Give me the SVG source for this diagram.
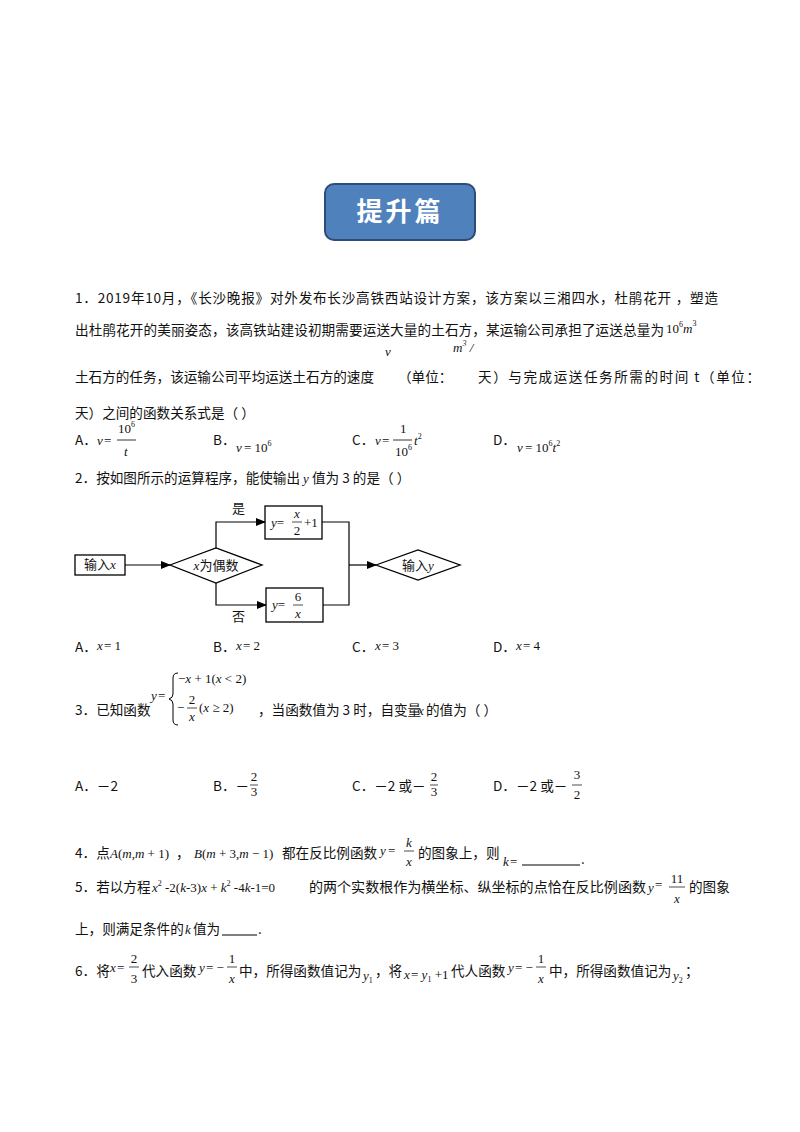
<svg xmlns="http://www.w3.org/2000/svg" width="800" height="1132" viewBox="0 0 800 1132">
<defs>
<marker id="ar" markerWidth="10" markerHeight="8" refX="9" refY="4" orient="auto" markerUnits="userSpaceOnUse"><path d="M0,0 L10,4 L0,8 Z" fill="#000"/></marker>
</defs>
<style>
.t{font-family:"Noto Sans CJK SC","Liberation Sans",sans-serif;font-size:13.6px;fill:#111}
.m{font-family:"Liberation Serif",serif;font-style:italic;font-size:13px;fill:#111}
.n{font-family:"Liberation Serif",serif;font-size:13px;fill:#111}
.s{font-size:8px}
.fc{font-family:"Liberation Serif","Noto Sans CJK SC",serif;font-size:13px;fill:#111}
.bx{fill:#fff;stroke:#000;stroke-width:1.3}
.ln{fill:none;stroke:#000;stroke-width:1.2}
</style>
<rect width="800" height="1132" fill="#fff"/>
<g id="title">
<rect x="325" y="184" width="150" height="56" rx="9" fill="#4f81bd" stroke="#2c4d75" stroke-width="2"/>
<text x="400" y="221" text-anchor="middle" style="font-family:'Noto Sans CJK SC',sans-serif;font-size:26px;font-weight:bold;fill:#fff;letter-spacing:3px">提升篇</text>
</g>
<g id="q1">
<text class="t" x="75" y="303" textLength="643" lengthAdjust="spacing">1．2019年10月，《长沙晚报》对外发布长沙高铁西站设计方案，该方案以三湘四水，杜鹃花开 ，塑造</text>
<text class="t" x="75" y="335" textLength="589" lengthAdjust="spacing">出杜鹃花开的美丽姿态，该高铁站建设初期需要运送大量的土石方，某运输公司承担了运送总量为</text>
<text class="n" x="666" y="333">10<tspan class="s" dy="-6">6</tspan><tspan class="m" dy="6">m</tspan><tspan class="s" dy="-7">3</tspan></text>
<text class="t" x="75" y="382" textLength="299" lengthAdjust="spacing">土石方的任务，该运输公司平均运送土石方的速度</text>
<text class="m" x="385" y="356">v</text>
<text class="t" x="398" y="382">（单位：</text>
<text class="m" x="453" y="352">m<tspan class="s" dy="-6">3</tspan><tspan class="n" dy="6"> /</tspan></text>
<text class="t" x="478" y="382" textLength="282" lengthAdjust="spacing">天）与完成运送任务所需的时间 t（单位：</text>
<text class="t" x="75" y="418">天）之间的函数关系式是（  ）</text>
<text class="t" x="75" y="445">A．</text>
<text class="m" x="97" y="445">v</text><text class="n" x="104" y="445">=</text>
<text class="n" x="118" y="433">10<tspan class="s" dy="-6">6</tspan></text>
<line x1="117" y1="440" x2="136" y2="440" stroke="#000" stroke-width="0.8"/>
<text class="m" x="124" y="456">t</text>
<text class="t" x="213" y="445">B．</text>
<text class="m" x="236" y="452">v</text><text class="n" x="244" y="452">= 10<tspan class="s" dy="-6">6</tspan></text>
<text class="t" x="352" y="445">C．</text>
<text class="m" x="375" y="445">v</text><text class="n" x="382" y="445">=</text>
<text class="n" x="400" y="433">1</text>
<line x1="393" y1="440" x2="412" y2="440" stroke="#000" stroke-width="0.8"/>
<text class="n" x="395" y="456">10<tspan class="s" dy="-6">6</tspan></text>
<text class="m" x="414" y="445">t<tspan class="s" dy="-6" font-style="normal">2</tspan></text>
<text class="t" x="493" y="445">D．</text>
<text class="m" x="517" y="452">v</text><text class="n" x="525" y="452">= 10<tspan class="s" dy="-6">6</tspan><tspan class="m" dy="6">t</tspan><tspan class="s" dy="-6">2</tspan></text>
</g>
<g id="q2">
<text class="t" x="75" y="483">2．按如图所示的运算程序，能使输出</text>
<text class="m" x="303" y="483">y</text>
<text class="t" x="312" y="483">值为 3 的是（    ）</text>
</g>
<g id="n_input"><rect class="bx" x="75" y="555" width="50" height="20"/><text class="fc" x="100" y="569" text-anchor="middle">输入<tspan font-style="italic">x</tspan></text></g>
<g id="n_cond"><polygon class="bx" points="170,565 216,548 262,565 216,583"/><text class="fc" x="216" y="570" text-anchor="middle"><tspan font-style="italic">x</tspan>为偶数</text></g>
<g id="n_yes"><rect class="bx" x="265" y="506" width="57" height="33"/><text class="fc" x="271" y="527"><tspan font-style="italic">y</tspan>=</text><text class="fc" x="297" y="518" text-anchor="middle" font-style="italic" font-size="11">x</text><line x1="292" y1="522" x2="302" y2="522" stroke="#000" stroke-width="0.7"/><text class="fc" x="297" y="535" text-anchor="middle" font-size="11">2</text><text class="fc" x="304" y="527">+1</text></g>
<g id="n_no"><rect class="bx" x="266" y="588" width="57" height="34"/><text class="fc" x="272" y="609"><tspan font-style="italic">y</tspan>=</text><text class="fc" x="298" y="601" text-anchor="middle" font-size="11">6</text><line x1="293" y1="605" x2="303" y2="605" stroke="#000" stroke-width="0.7"/><text class="fc" x="298" y="618" text-anchor="middle" font-style="italic" font-size="11">x</text></g>
<g id="n_output"><polygon class="bx" points="376,565 418,550 460,565 418,580"/><text class="fc" x="418" y="570" text-anchor="middle">输入<tspan font-style="italic">y</tspan></text></g>
<g id="connectors">
<line class="ln" x1="125" y1="565" x2="170" y2="565" marker-end="url(#ar)"/>
<polyline class="ln" points="216,548 216,522 265,522" marker-end="url(#ar)"/>
<polyline class="ln" points="216,583 216,605 266,605" marker-end="url(#ar)"/>
<polyline class="ln" points="322,522 349,522 349,605 323,605"/>
<line class="ln" x1="349" y1="565" x2="376" y2="565" marker-end="url(#ar)"/>
<text class="fc" x="232" y="513">是</text>
<text class="fc" x="232" y="621">否</text>
</g>
<g id="q2opts">
<text class="t" x="75" y="652">A．</text><text class="m" x="97" y="650">x</text><text class="n" x="104" y="650">= 1</text>
<text class="t" x="213" y="652">B．</text><text class="m" x="236" y="650" font-size="11">x</text><text class="n" x="243" y="650" font-size="11">= 2</text>
<text class="t" x="352" y="652">C．</text><text class="m" x="375" y="650">x</text><text class="n" x="382" y="650">= 3</text>
<text class="t" x="493" y="652">D．</text><text class="m" x="516" y="650" font-size="11">x</text><text class="n" x="523" y="650" font-size="11">= 4</text>
</g>
<g id="q3">
<text class="t" x="75" y="715">3．已知函数</text>
<text class="m" x="151" y="700">y</text><text class="n" x="158" y="700">=</text>
<path d="M178,673 Q173,673 173,678 L173,694 Q173,698 169,699 Q173,700 173,704 L173,720 Q173,725 178,725" fill="none" stroke="#000" stroke-width="1"/>
<text class="n" x="178" y="683">−<tspan font-style="italic">x</tspan> + 1(<tspan font-style="italic">x</tspan> &lt; 2)</text>
<text class="n" x="177" y="712">−</text>
<text class="n" x="192" y="704" text-anchor="middle">2</text>
<line x1="187" y1="708" x2="197" y2="708" stroke="#000" stroke-width="0.7"/>
<text class="m" x="192" y="721" text-anchor="middle">x</text>
<text class="n" x="199" y="712">(<tspan font-style="italic">x</tspan> ≥ 2)</text>
<text class="t" x="258" y="715">，当函数值为 3 时，自变量</text>
<text class="m" x="418" y="715">x</text>
<text class="t" x="426" y="715">的值为（       ）</text>
<text class="t" x="75" y="791">A．－2</text>
<text class="t" x="213" y="791">B．－</text>
<text class="n" x="254" y="781" text-anchor="middle" font-size="11">2</text><line x1="250" y1="785" x2="258" y2="785" stroke="#000" stroke-width="0.7"/><text class="n" x="254" y="796" text-anchor="middle" font-size="11">3</text>
<text class="t" x="352" y="791">C．－2 或－</text>
<text class="n" x="434" y="781" text-anchor="middle" font-size="11">2</text><line x1="430" y1="785" x2="438" y2="785" stroke="#000" stroke-width="0.7"/><text class="n" x="434" y="796" text-anchor="middle" font-size="11">3</text>
<text class="t" x="493" y="791">D．－2 或－</text>
<text class="n" x="577" y="779" text-anchor="middle">3</text><line x1="572" y1="785" x2="582" y2="785" stroke="#000" stroke-width="0.7"/><text class="n" x="577" y="799" text-anchor="middle">2</text>
</g>
<g id="q4">
<text class="t" x="75" y="858">4．点</text>
<text class="n" x="110" y="858"><tspan font-style="italic">A</tspan>(<tspan font-style="italic">m</tspan>,<tspan font-style="italic">m</tspan> + 1)</text>
<text class="t" x="176" y="858">，</text>
<text class="n" x="194" y="858"><tspan font-style="italic">B</tspan>(<tspan font-style="italic">m</tspan> + 3,<tspan font-style="italic">m</tspan> − 1)</text>
<text class="t" x="282" y="858">都在反比例函数</text>
<text class="m" x="380" y="855">y</text><text class="n" x="388" y="855">=</text>
<text class="m" x="409" y="847" text-anchor="middle">k</text><line x1="404" y1="851" x2="414" y2="851" stroke="#000" stroke-width="0.7"/><text class="m" x="409" y="866" text-anchor="middle">x</text>
<text class="t" x="418" y="858">的图象上，则</text>
<text class="m" x="503" y="866">k</text><text class="n" x="510" y="866" font-size="10">=</text>
<line x1="522" y1="865" x2="580" y2="865" stroke="#000" stroke-width="1"/>
<text class="t" x="581" y="864">.</text>
</g>
<g id="q5">
<text class="t" x="75" y="892">5．若以方程</text>
<text class="n" x="152" y="892"><tspan font-style="italic">x</tspan><tspan class="s" dy="-6">2</tspan><tspan dy="6"> -2(<tspan font-style="italic">k</tspan>-3)<tspan font-style="italic">x</tspan> + <tspan font-style="italic">k</tspan></tspan><tspan class="s" dy="-6">2</tspan><tspan dy="6"> -4<tspan font-style="italic">k</tspan>-1=0</tspan></text>
<text class="t" x="309" y="892" textLength="337" lengthAdjust="spacingAndGlyphs">的两个实数根作为横坐标、纵坐标的点恰在反比例函数</text>
<text class="m" x="648" y="892">y</text><text class="n" x="655" y="889">=</text>
<text class="n" x="677" y="883" text-anchor="middle">11</text><line x1="669" y1="887" x2="685" y2="887" stroke="#000" stroke-width="0.7"/><text class="m" x="677" y="903" text-anchor="middle">x</text>
<text class="t" x="689" y="892">的图象</text>
<text class="t" x="75" y="934">上，则满足条件的</text>
<text class="m" x="185" y="934">k</text>
<text class="t" x="193" y="934">值为</text>
<line x1="222" y1="935" x2="257" y2="935" stroke="#000" stroke-width="1"/>
<text class="t" x="258" y="934">.</text>
</g>
<g id="q6">
<text class="t" x="75" y="976">6．将</text>
<text class="m" x="110" y="972">x</text><text class="n" x="117" y="972">=</text>
<text class="n" x="134" y="963" text-anchor="middle">2</text><line x1="129" y1="967" x2="139" y2="967" stroke="#000" stroke-width="0.7"/><text class="n" x="134" y="983" text-anchor="middle">3</text>
<text class="t" x="142" y="976">代入函数</text>
<text class="m" x="199" y="972">y</text><text class="n" x="206" y="972">= −</text>
<text class="n" x="232" y="963" text-anchor="middle">1</text><line x1="227" y1="967" x2="237" y2="967" stroke="#000" stroke-width="0.7"/><text class="m" x="232" y="983" text-anchor="middle">x</text>
<text class="t" x="239" y="976">中，所得函数值记为</text>
<text class="m" x="363" y="980">y<tspan class="s" font-style="normal" dy="3">1</tspan></text>
<text class="t" x="375" y="976">，将</text>
<text class="m" x="404" y="979">x</text><text class="n" x="411" y="979">= <tspan font-style="italic">y</tspan><tspan class="s" dy="3">1</tspan><tspan dy="-3"> +1</tspan></text>
<text class="t" x="451" y="976">代人函数</text>
<text class="m" x="508" y="972">y</text><text class="n" x="515" y="972">= −</text>
<text class="n" x="541" y="963" text-anchor="middle">1</text><line x1="536" y1="967" x2="546" y2="967" stroke="#000" stroke-width="0.7"/><text class="m" x="541" y="983" text-anchor="middle">x</text>
<text class="t" x="549" y="976">中，所得函数值记为</text>
<text class="m" x="673" y="980">y<tspan class="s" font-style="normal" dy="3">2</tspan></text>
<text class="t" x="685" y="976">；</text>
</g>
</svg>
